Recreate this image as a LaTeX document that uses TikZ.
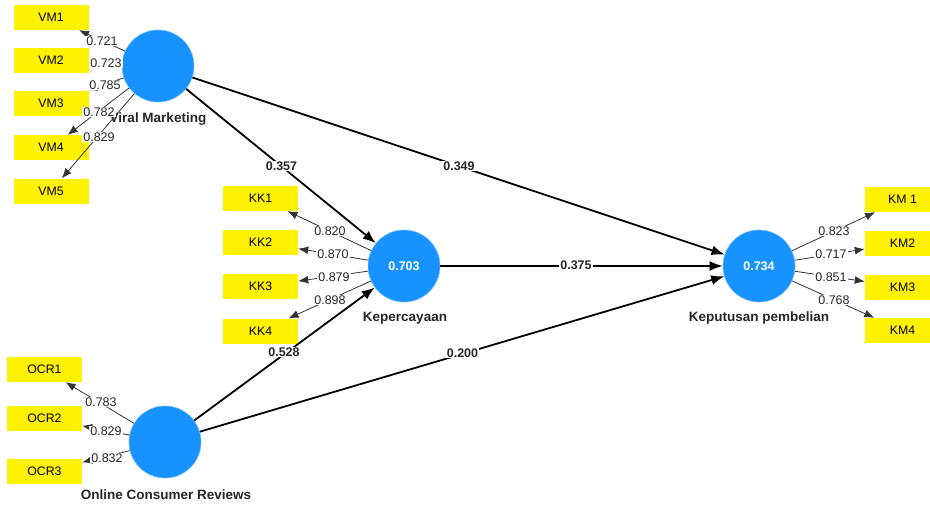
\documentclass[tikz,border=0pt]{standalone}
\usepackage{fontspec}
\setmainfont{Liberation Sans}
\usetikzlibrary{arrows.meta}
\definecolor{lvblue}{RGB}{24,146,255}
\begin{document}
\begin{tikzpicture}[x=1pt,y=-1pt,
 lv/.style={circle,fill=lvblue,draw=lvblue!60!white,line width=0.6pt,minimum size=72pt,inner sep=0pt,text=white,font=\fontsize{12.5}{14}\selectfont\bfseries},
 ind/.style={rectangle,fill=yellow,minimum width=75pt,minimum height=25pt,inner sep=0pt,font=\fontsize{12.3}{14}\selectfont},
 lvname/.style={font=\fontsize{13.5}{16}\selectfont\bfseries,text=black!85,inner sep=0pt},
 pathline/.style={line width=1.8pt,-{Latex[length=13pt,width=10pt]}},
 load/.style={line width=0.8pt,draw=black!80,-{Latex[length=10pt,width=8pt]}},
 plab/.style={fill=white,inner sep=1pt,font=\fontsize{12.5}{14}\selectfont\bfseries,text=black!85},
 llab/.style={fill=white,inner sep=1pt,font=\fontsize{12.5}{14}\selectfont,text=black!85}]
\useasboundingbox (0,0) rectangle (930,504);
\clip (0,0) rectangle (930,504);

% latent variables
\node[lv] (VM) at (158,66) {};
\node[lv] (KK) at (404,266) {0.703};
\node[lv] (OCR) at (165,442) {};
\node[lv] (KP) at (759,266) {0.734};

\node[lvname] (VMn) at (158,119) {Viral Marketing};
\node[lvname] (KKn) at (405,318) {Kepercayaan};
\node[lvname] (KPn) at (759,318) {Keputusan pembelian};
\node[lvname] (OCRn) at (166,495) {Online Consumer Reviews};

% indicators
\node[ind] (VM1) at (51,17.5) {VM1};
\node[ind] (VM2) at (51,60.5) {VM2};
\node[ind] (VM3) at (51,103) {VM3};
\node[ind] (VM4) at (51,147.5) {VM4};
\node[ind] (VM5) at (51,191) {VM5};

\node[ind] (KK1) at (260.5,198.5) {KK1};
\node[ind] (KK2) at (260.5,242.5) {KK2};
\node[ind] (KK3) at (260.5,286.5) {KK3};
\node[ind] (KK4) at (260.5,331) {KK4};

\node[ind] (OCR1) at (44.5,369.5) {OCR1};
\node[ind] (OCR2) at (44.5,418.5) {OCR2};
\node[ind] (OCR3) at (44.5,471.5) {OCR3};

\node[ind] (KM1) at (902.5,199.5) {KM 1};
\node[ind] (KM2) at (902.5,243) {KM2};
\node[ind] (KM3) at (902.5,287) {KM3};
\node[ind] (KM4) at (902.5,330.5) {KM4};

% loadings
\foreach \i in {1,...,5} \draw[load] (VM) -- (VM\i);
\foreach \i in {1,...,4} \draw[load] (KK) -- (KK\i);
\foreach \i in {1,...,3} \draw[load] (OCR) -- (OCR\i);
\foreach \i in {1,...,4} \draw[load] (KP) -- (KM\i);

% structural paths
\draw[pathline] (VM) -- (KK);
\draw[pathline] (VM) -- (KP);
\draw[pathline] (KK) -- (KP);
\draw[pathline] (OCR) -- (KK);
\draw[pathline] (OCR) -- (KP);

% loading labels
\node[llab] (lvm1) at (102,41) {0.721};
\node[llab] (lvm2) at (106,63) {0.723};
\node[llab] (lvm3) at (105,85) {0.785};
\node[llab] (lvm4) at (99,112) {0.782};
\node[llab] (lvm5) at (99,137) {0.829};

\node[llab] (lkk1) at (330,231) {0.820};
\node[llab] (lkk2) at (333,254) {0.870};
\node[llab] (lkk3) at (334,277) {0.879};
\node[llab] (lkk4) at (330,300) {0.898};

\node[llab] (locr1) at (101,402) {0.783};
\node[llab] (locr2) at (106,431) {0.829};
\node[llab] (locr3) at (107,458) {0.832};

\node[llab] (lkm1) at (834,231) {0.823};
\node[llab] (lkm2) at (831,254) {0.717};
\node[llab] (lkm3) at (831,277) {0.851};
\node[llab] (lkm4) at (834,300) {0.768};

% path labels
\node[plab] (p1) at (281.5,166) {0.357};
\node[plab] (p2) at (459,166) {0.349};
\node[plab] (p3) at (576,265) {0.375};
\node[plab] (p4) at (284,352) {0.528};
\node[plab] (p5) at (462.5,353) {0.200};
\end{tikzpicture}
\end{document}
